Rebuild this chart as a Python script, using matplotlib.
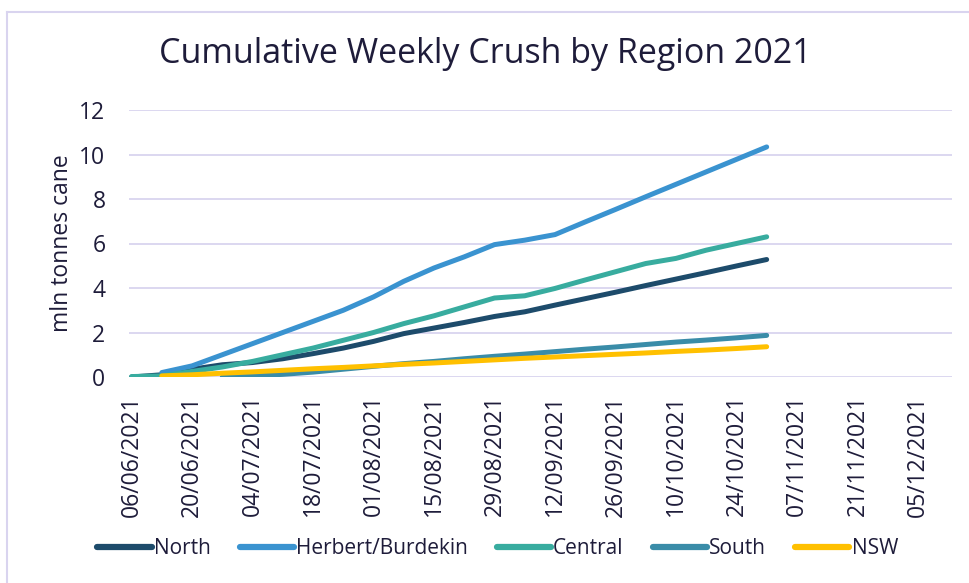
import matplotlib
matplotlib.use("Agg")
import matplotlib.pyplot as plt
import matplotlib.dates as mdates
from matplotlib.lines import Line2D
import numpy as np
import pandas as pd

nan = np.nan

# weekly dates, 06/06/2021 .. 31/10/2021
weeks = pd.date_range("2021-06-06", "2021-10-31", freq="7D")

north = [0.0, 0.1, 0.35, 0.55, 0.65, 0.82, 1.05, 1.3, 1.6, 1.95, 2.2, 2.45,
         2.72, 2.93, 3.23, 3.52, 3.81, 4.11, 4.40, 4.69, 4.99, 5.28]
herbert = [nan, 0.2, 0.5, 1.0, 1.5, 2.0, 2.5, 3.0, 3.6, 4.3, 4.9, 5.4,
           5.95, 6.15, 6.4, 6.97, 7.53, 8.1, 8.66, 9.22, 9.78, 10.34]
central = [0.02, 0.05, 0.25, 0.45, 0.7, 1.0, 1.3, 1.65, 2.0, 2.4, 2.75, 3.15,
           3.55, 3.65, 3.98, 4.36, 4.73, 5.1, 5.33, 5.7, 6.0, 6.3]
south = [nan, nan, nan, 0.0, 0.05, 0.12, 0.22, 0.35, 0.48, 0.6, 0.7, 0.82,
         0.93, 1.03, 1.14, 1.25, 1.35, 1.46, 1.57, 1.66, 1.76, 1.87]
nsw = [nan, 0.05, 0.1, 0.17, 0.23, 0.3, 0.37, 0.43, 0.5, 0.57, 0.63, 0.7,
       0.77, 0.84, 0.9, 0.96, 1.02, 1.08, 1.15, 1.21, 1.28, 1.36]

series = [
    ("North", north, "#1D4B6B"),
    ("Herbert/Burdekin", herbert, "#3A93D0"),
    ("Central", central, "#38AC9F"),
    ("South", south, "#3A8CA8"),
    ("NSW", nsw, "#FFC000"),
]

txt_col = "#1E1C3A"
grid_col = "#D9D4EF"
plt.rcParams["font.family"] = ["Open Sans", "DejaVu Sans"]

fig = plt.figure(figsize=(9.7, 5.83), dpi=100)
ax = fig.add_axes([129 / 970, 1 - 377 / 583, (952 - 129) / 970, (377 - 110) / 583])

for name, vals, col in series:
    ax.plot(weeks, vals, color=col, lw=3.6, solid_capstyle="round",
            solid_joinstyle="round", label=name, zorder=3)

# axes cosmetics
ax.set_ylim(0, 12)
ax.set_yticks(np.arange(0, 13, 2))
start = mdates.date2num(pd.Timestamp("2021-06-06"))
ax.set_xlim(start - 0.6, start + 189.9)
ax.set_xticks(pd.date_range("2021-06-06", "2021-12-05", freq="14D"))
ax.xaxis.set_major_formatter(mdates.DateFormatter("%d/%m/%Y"))
ax.grid(axis="y", color=grid_col, lw=1.3, zorder=0)
for s in ax.spines.values():
    s.set_visible(False)
ax.tick_params(axis="both", length=0, labelcolor=txt_col, labelsize=16.5)
ax.tick_params(axis="x", rotation=90, pad=13)
ax.tick_params(axis="y", pad=17)
ax.set_ylabel("mln tonnes cane", fontsize=16.5, color=txt_col, labelpad=4)

fig.text(0.5, 1 - 54 / 583, "Cumulative Weekly Crush by Region 2021",
         ha="center", va="center", fontsize=24.5, color=txt_col)

handles = [Line2D([], [], color=c, lw=4.5, solid_capstyle="round") for _, _, c in series]
fig.legend(handles, [n for n, _, _ in series], loc="center",
           bbox_to_anchor=(0.513, 1 - 549 / 583), ncol=5, frameon=False,
           fontsize=15, labelcolor=txt_col, handlelength=2.6,
           handletextpad=0.1, columnspacing=1.4)

# light frame around the chart area
fig.add_artist(Line2D([7 / 970, 1], [1 - 12 / 583, 1 - 12 / 583],
                      color=grid_col, lw=1.5, transform=fig.transFigure))
fig.add_artist(Line2D([7 / 970, 7 / 970], [0, 1 - 12 / 583],
                      color=grid_col, lw=1.5, transform=fig.transFigure))

fig.savefig("out.png", dpi=100)
